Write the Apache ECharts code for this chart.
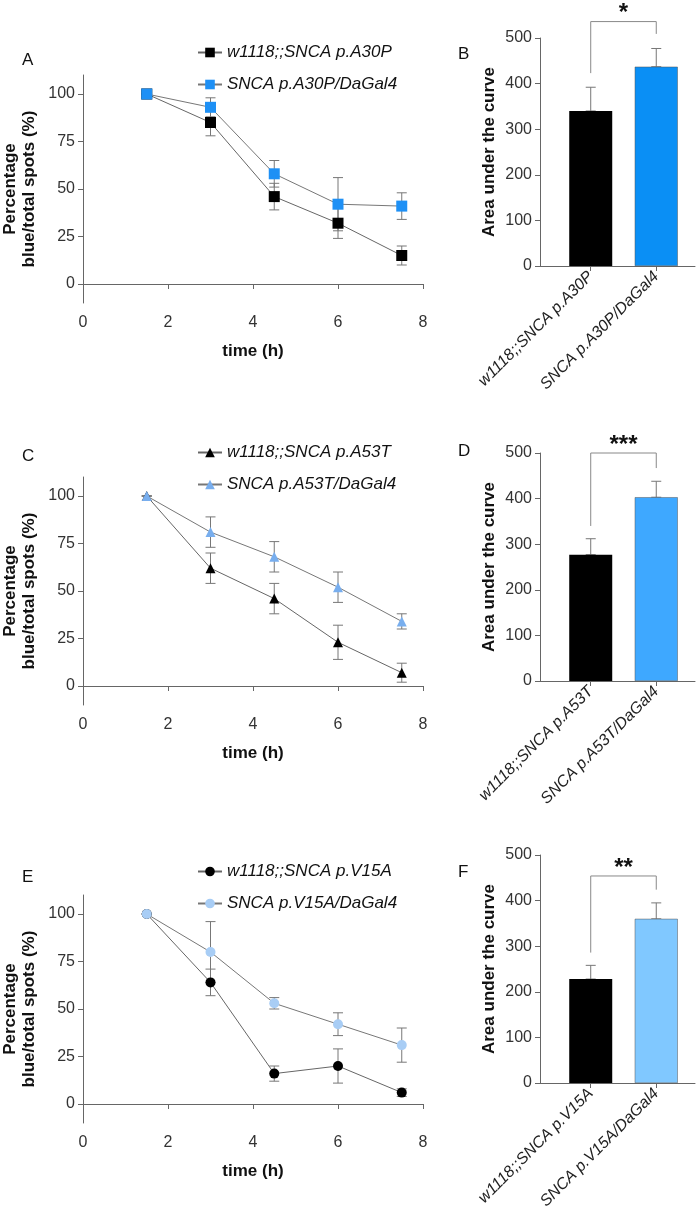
<!DOCTYPE html>
<html lang="en">
<head>
    <meta charset="UTF-8">
    <title>SNCA survival curves</title>
    <script src="https://cdn.jsdelivr.net/npm/echarts@6/dist/echarts.min.js"></script>
</head>
<body style="margin:0">
    <div id="main" style="width:700px;height:1226px;"></div>
    <script type="text/javascript">
        // data
        var times = [1.5, 3, 4.5, 6, 7.5];
        var yTicks = [0, 25, 50, 75, 100];

        var namesA = ['w1118;;SNCA p.A30P', 'SNCA p.A30P/DaGal4'];
        var blackA = [100, 85, 46, 32, 15];
        var blackAErr = [0, 7, 7, 8, 5];
        var blueA = [100, 93, 58, 42, 41];
        var blueAErr = [0, 5, 7, 14, 7];
        var aucA = [340, 437];
        var aucAErr = [52, 40];

        var namesC = ['w1118;;SNCA p.A53T', 'SNCA p.A53T/DaGal4'];
        var blackC = [100, 62, 46, 23, 7];
        var blackCErr = [0, 8, 8, 9, 5];
        var blueC = [100, 81, 68, 52, 34];
        var blueCErr = [0, 8, 8, 8, 4];
        var aucC = [277, 403];
        var aucCErr = [35, 35];

        var namesE = ['w1118;;SNCA p.V15A', 'SNCA p.V15A/DaGal4'];
        var blackE = [100, 64, 16, 20, 6];
        var blackEErr = [0, 7, 4, 9, 2];
        var blueE = [100, 80, 53, 42, 31];
        var blueEErr = [0, 16, 3, 6, 9];
        var aucE = [228, 360];
        var aucEErr = [30, 35];

        var stars = ['*', '***', '**'];

        var myChart = echarts.init(document.getElementById('main'));
        var font = "'Liberation Sans', Arial, sans-serif";
        var axisCol = '#666';
        var barX = [0.72, 1.65];

        var panels = [
            {names: namesA, black: blackA, bErr: blackAErr, blue: blueA, uErr: blueAErr, auc: aucA, aErr: aucAErr,
             lineTop: 75, barTop: 38, legTop: 39, letterY: [52, 46], bracket: [536, 423, 509],
             sym: 'rect', lineBlue: '#1e90f5', barBlue: '#0a8ff5', letters: ['A', 'B']},
            {names: namesC, black: blackC, bErr: blackCErr, blue: blueC, uErr: blueCErr, auc: aucC, aErr: aucCErr,
             lineTop: 477, barTop: 453, legTop: 439, letterY: [448, 443], bracket: [500, 340, 467],
             sym: 'triangle', lineBlue: '#78aeee', barBlue: '#3ea8ff', letters: ['C', 'D']},
            {names: namesE, black: blackE, bErr: blackEErr, blue: blueE, uErr: blueEErr, auc: aucE, aErr: aucEErr,
             lineTop: 895, barTop: 855, legTop: 858, letterY: [869, 864], bracket: [454, 286, 424],
             sym: 'circle', lineBlue: '#a8cdf5', barBlue: '#80c8ff', letters: ['E', 'F']}
        ];

        function errRender(params, api) {
            var x = api.value(0);
            var p1 = api.coord([x, api.value(1)]);
            var p2 = api.coord([x, api.value(2)]);
            var w = 5;
            var st = {stroke: '#777', lineWidth: 1};
            return {type: 'group', children: [
                {type: 'line', shape: {x1: p1[0], y1: p1[1], x2: p2[0], y2: p2[1]}, style: st},
                {type: 'line', shape: {x1: p1[0] - w, y1: p1[1], x2: p1[0] + w, y2: p1[1]}, style: st},
                {type: 'line', shape: {x1: p2[0] - w, y1: p2[1], x2: p2[0] + w, y2: p2[1]}, style: st}
            ]};
        }

        var grid = [], xAxis = [], yAxis = [], series = [], legend = [], graphic = [];

        panels.forEach(function (p, k) {
            var gi = k * 2;
            grid.push({left: 80, width: 343, top: p.lineTop, height: 228});
            grid.push({left: 540, width: 155, top: p.barTop, height: 228});

            xAxis.push({gridIndex: gi, type: 'value', min: 0, max: 8, interval: 2,
                name: 'time (h)', nameLocation: 'middle', nameGap: 40,
                nameTextStyle: {fontFamily: font, fontSize: 17, fontWeight: 'bold', color: '#111'},
                axisLine: {lineStyle: {color: axisCol}}, axisTick: {lineStyle: {color: axisCol}},
                axisLabel: {fontFamily: font, fontSize: 16, color: '#333', margin: 12}, splitLine: {show: false}});
            yAxis.push({gridIndex: gi, type: 'value', min: -10, max: 110,
                name: 'Percentage\nblue/total spots (%)', nameLocation: 'middle', nameGap: 44,
                nameTextStyle: {fontFamily: font, fontSize: 17, fontWeight: 'bold', color: '#111', lineHeight: 19},
                axisLine: {show: true, lineStyle: {color: axisCol}},
                axisTick: {show: true, customValues: yTicks, lineStyle: {color: axisCol}},
                axisLabel: {customValues: yTicks, fontFamily: font, fontSize: 16, color: '#333'},
                splitLine: {show: false}});

            xAxis.push({gridIndex: gi + 1, type: 'value', min: 0, max: 2.2,
                axisLine: {lineStyle: {color: axisCol}},
                axisTick: {customValues: barX, lineStyle: {color: axisCol}},
                axisLabel: {customValues: barX, rotate: 45, fontFamily: font, fontSize: 16,
                    fontStyle: 'italic', color: '#222',
                    formatter: function (v) { return v < 1 ? p.names[0] : p.names[1]; }},
                splitLine: {show: false}});
            yAxis.push({gridIndex: gi + 1, type: 'value', min: 0, max: 500, interval: 100,
                name: 'Area under the curve', nameLocation: 'middle', nameGap: 42,
                nameTextStyle: {fontFamily: font, fontSize: 17, fontWeight: 'bold', color: '#111'},
                axisLine: {show: true, lineStyle: {color: axisCol}},
                axisTick: {show: true, lineStyle: {color: axisCol}},
                axisLabel: {fontFamily: font, fontSize: 16, color: '#333'},
                splitLine: {show: false}});

            function errData(vals, errs) {
                return times.map(function (t, i) { return [t, vals[i] - errs[i], vals[i] + errs[i]]; });
            }
            series.push({type: 'custom', xAxisIndex: gi, yAxisIndex: gi, renderItem: errRender,
                data: errData(p.black, p.bErr), z: 1, silent: true});
            series.push({type: 'custom', xAxisIndex: gi, yAxisIndex: gi, renderItem: errRender,
                data: errData(p.blue, p.uErr), z: 1, silent: true});
            var symSize = p.sym === 'rect' ? 11 : 10;
            series.push({name: p.names[0], type: 'line', xAxisIndex: gi, yAxisIndex: gi,
                data: times.map(function (t, i) { return [t, p.black[i]]; }),
                symbol: p.sym, symbolSize: symSize, itemStyle: {color: '#000'},
                lineStyle: {color: '#666', width: 1}, z: 3});
            series.push({name: p.names[1], type: 'line', xAxisIndex: gi, yAxisIndex: gi,
                data: times.map(function (t, i) { return [t, p.blue[i]]; }),
                symbol: p.sym, symbolSize: symSize, itemStyle: {color: p.lineBlue},
                lineStyle: {color: '#777', width: 1}, z: 4});

            series.push({type: 'bar', xAxisIndex: gi + 1, yAxisIndex: gi + 1, barWidth: 43,
                data: [{value: [barX[0], p.auc[0]], itemStyle: {color: '#000'}},
                       {value: [barX[1], p.auc[1]], itemStyle: {color: p.barBlue, borderColor: '#555', borderWidth: 0.5}}],
                z: 2});
            series.push({type: 'custom', xAxisIndex: gi + 1, yAxisIndex: gi + 1, renderItem: errRender,
                data: barX.map(function (x, i) { return [x, p.auc[i], p.auc[i] + p.aErr[i]]; }), z: 1, silent: true});
            // significance bracket
            series.push({type: 'custom', xAxisIndex: gi + 1, yAxisIndex: gi + 1, silent: true, z: 5,
                data: [[barX[0], barX[1]].concat(p.bracket)],
                renderItem: function (params, api) {
                    var a = api.coord([api.value(0), api.value(2)]);
                    var b = api.coord([api.value(1), api.value(2)]);
                    var aB = api.coord([api.value(0), api.value(3)]);
                    var bB = api.coord([api.value(1), api.value(4)]);
                    var st = {stroke: '#888', lineWidth: 1, fill: null};
                    return {type: 'group', children: [
                        {type: 'polyline', shape: {points: [aB, a, b, bB]}, style: st},
                        {type: 'text', x: (a[0] + b[0]) / 2, y: a[1] + 4,
                         style: {text: stars[k], fontFamily: font, fontSize: 24, fontWeight: 'bold',
                                 fill: '#111', align: 'center', verticalAlign: 'bottom'}}
                    ]};
                }});

            legend.push({data: p.names,
                orient: 'vertical', left: 192, top: p.legTop, itemGap: 15,
                itemWidth: 24, itemHeight: 12,
                textStyle: {fontFamily: font, fontSize: 17, fontStyle: 'italic', color: '#111'}});

            graphic.push({type: 'text', left: 22, top: p.letterY[0],
                style: {text: p.letters[0], fontFamily: font, fontSize: 17, fill: '#111'}});
            graphic.push({type: 'text', left: 458, top: p.letterY[1],
                style: {text: p.letters[1], fontFamily: font, fontSize: 17, fill: '#111'}});
        });

        var option = {
            animation: false,
            backgroundColor: '#fff',
            grid: grid, xAxis: xAxis, yAxis: yAxis,
            legend: legend, series: series, graphic: graphic
        };
        myChart.setOption(option);
    </script>
</body>
</html>
